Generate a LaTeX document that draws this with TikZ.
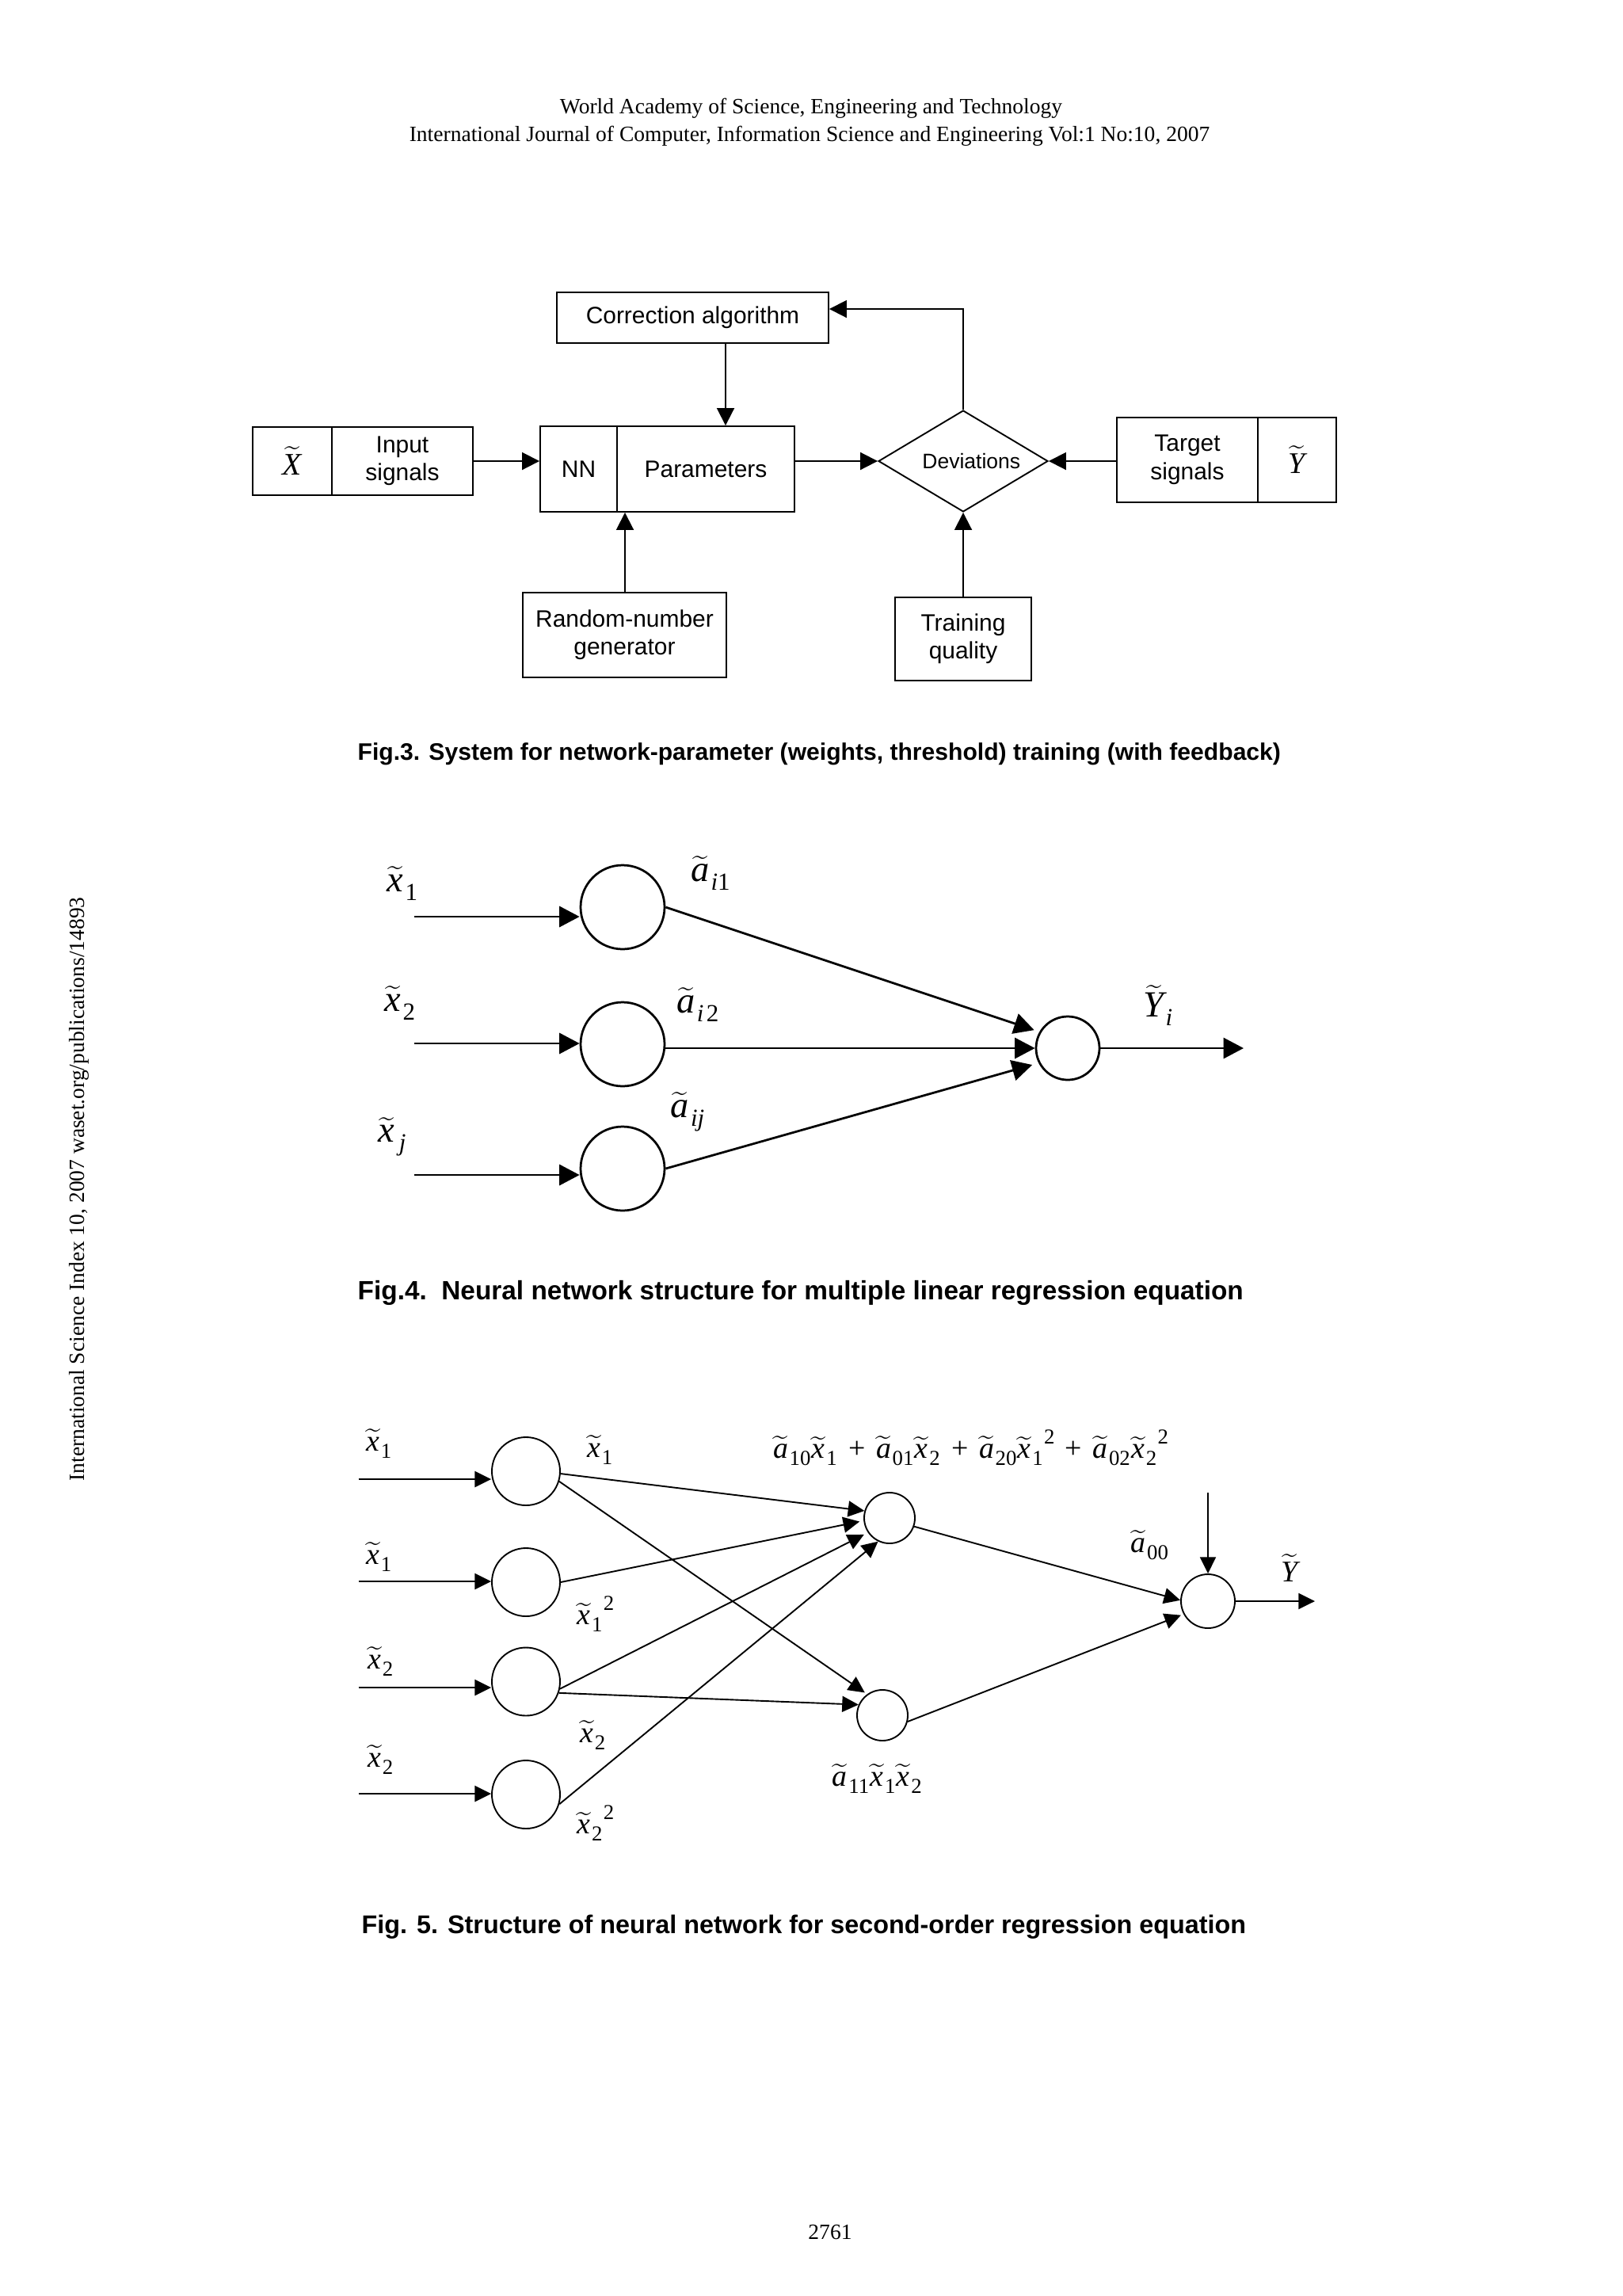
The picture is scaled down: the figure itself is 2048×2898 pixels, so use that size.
\documentclass[tikz,border=0pt]{standalone}
\usepackage[no-math]{fontspec}
\setmainfont{Liberation Serif}
\newfontfamily\arial{Liberation Sans}
\usetikzlibrary{arrows.meta,shapes.geometric,calc}
\newlength\pxu \setlength\pxu{0.29066pt}
\newcommand\tv[1]{$\widetilde{\mbox{\itshape #1}}$}
\newcommand\fa{\fontsize{13.5}{16}\selectfont}
\newcommand\loA[1]{\kern0.6pt\raisebox{-3.2pt}{\fontsize{9}{9}\selectfont #1}}
\newcommand\fb{\fontsize{11}{12}\selectfont}
\newcommand\loB[1]{\kern0.5pt\raisebox{-2.6pt}{\fontsize{7.8}{7.8}\selectfont #1}\kern0.4pt}
\newcommand\hiB[1]{\raisebox{5.4pt}{\fontsize{7.8}{7.8}\selectfont #1}}
\newcommand\pl{\hspace{0.35em}+\hspace{0.35em}}
\tikzset{
  b3/.style={draw, line width=0.55pt, inner sep=0pt, align=center, font=\arial\fontsize{8.7}{10.3}\selectfont},
  a3/.style={line width=0.55pt, -{Triangle[length=6.4pt,width=6.4pt]}},
  n4/.style={circle, draw, line width=0.8pt, inner sep=0pt},
  a4/.style={line width=0.8pt, -{Triangle[length=7.4pt,width=7.6pt]}},
  l4/.style={inner sep=0pt, font=\fa},
  n5/.style={circle, draw, line width=0.55pt, inner sep=0pt},
  a5/.style={line width=0.55pt, -{Triangle[length=6pt,width=5.8pt]}},
  i5/.style={line width=0.7pt, -{Triangle[length=6pt,width=5.8pt]}},
  l5/.style={inner sep=0pt, font=\fb},
  figcap/.style={inner sep=0pt, anchor=west, font=\arial\bfseries\fontsize{8.75}{10}\selectfont},
  txt/.style={inner sep=0pt, font=\fontsize{8}{9}\selectfont}
}
\begin{document}
\begin{tikzpicture}[x=0.29066pt, y=-0.29066pt]
\useasboundingbox (0,0) rectangle (2048,2898);
\fill[white] (0,0) rectangle (2048,2898);

% header, side text, page number
\node[txt] (hdr1) at (1024,137) {World Academy of Science, Engineering and Technology};
\node[txt] (hdr2) at (1022,172) {International Journal of Computer, Information Science and Engineering Vol:1 No:10, 2007};
\node[txt, rotate=90] (side) at (100,1501) {International Science Index 10, 2007 waset.org/publications/14893};
\node[txt] (pgno) at (1048,2817) {2761};

% ---------------- Fig. 3 ----------------
\node[b3, minimum width={343*\pxu}, minimum height={64*\pxu}] (corr) at (874.5,401) {Correction algorithm};
\node[b3, minimum width={100*\pxu}, minimum height={86*\pxu}, font=\fontsize{11.5}{12}\selectfont] (xs) at (369,582) {\tv{X}};
\node[b3, minimum width={178*\pxu}, minimum height={86*\pxu}] (inp) at (508,582) {Input\\signals};
\node[b3, minimum width={97*\pxu}, minimum height={108*\pxu}] (nn) at (730.5,592) {NN};
\node[b3, minimum width={224*\pxu}, minimum height={108*\pxu}] (par) at (891,592) {Parameters};
\node[diamond, draw, line width=0.55pt, inner sep=0pt, aspect=1.67,
      minimum width={214*\pxu}, minimum height={128*\pxu},
      font=\arial\fontsize{7.7}{9}\selectfont] (dev) at (1216,582) {\hspace*{6pt}Deviations};
\node[b3, minimum width={178*\pxu}, minimum height={107*\pxu}] (tgt) at (1499,580.5) {Target\\signals};
\node[b3, minimum width={99*\pxu}, minimum height={107*\pxu}, font=\fontsize{11}{12}\selectfont] (ys) at (1637.5,580.5) {\tv{Y}};
\node[b3, minimum width={257*\pxu}, minimum height={107*\pxu}] (rng) at (788.5,801.5) {Random-number\\generator};
\node[b3, minimum width={172*\pxu}, minimum height={105*\pxu}] (tq) at (1216,806.5) {Training\\quality};

\draw[a3] (inp.east) -- (inp.east -| nn.west);
\draw[a3] (dev.west -| par.east) -- (dev.west);
\draw[a3] (tgt.west |- dev.east) -- (dev.east);
\coordinate (cp) at ($(par.north)+(25,0)$);
\draw[a3] (corr.south -| cp) -- (cp);
\coordinate (rp) at ($(par.south)+(-102,0)$);
\draw[a3] (rng.north -| rp) -- (rp);
\draw[a3] (tq.north) -- (dev.south);
\draw[a3] (dev.north) |- ($(corr.east)+(0,-11)$);

\node[figcap] (cap3) at (451,952) {Fig.3. System for network-parameter (weights, threshold) training (with feedback)};

% ---------------- Fig. 4 ----------------
\node[n4, minimum size={106*\pxu}] (c1) at (786,1145) {};
\node[n4, minimum size={106*\pxu}] (c2) at (786,1318) {};
\node[n4, minimum size={106*\pxu}] (c3) at (786,1475) {};
\node[n4, minimum size={80*\pxu}] (o4) at (1348,1323) {};
\coordinate (i1) at (523,1157);
\coordinate (i2) at (523,1317);
\coordinate (i3) at (523,1483);
\draw[a4] (i1) -- (i1 -| c1.west);
\draw[a4] (i2) -- (i2 -| c2.west);
\draw[a4] (i3) -- (i3 -| c3.west);
\draw[a4, shorten >=2pt] (c1.east) -- (o4.150);
\draw[a4] (c2.east |- o4.west) -- (o4.west);
\draw[a4, shorten >=2.4pt] (c3.east) -- (o4.207);
\coordinate (y4) at (1570,1323);
\draw[a4] (o4.east) -- (y4);

\node[l4] (lx1) at (508,1115) {\tv{x}\loA{1}};
\node[l4] (lx2) at (505,1266) {\tv{x}\loA{2}};
\node[l4] (lxj) at (495,1435) {\tv{x}\loA{\kern1pt\itshape j}};
\node[l4] (la1) at (897,1102) {\tv{a}\loA{\textit{i}1}};
\node[l4] (la2) at (881,1268) {\tv{a}\loA{\textit{i}\kern1pt2}};
\node[l4] (laj) at (868,1403) {\tv{a}\loA{\textit{ij}}};
\node[l4] (lyi) at (1462,1269) {\tv{Y}\loA{\textit{i}}};

\node[figcap, font=\arial\bfseries\fontsize{9.7}{11}\selectfont] (cap4) at (451,1632) {Fig.4.\ \ Neural network structure for multiple linear regression equation};

% ---------------- Fig. 5 ----------------
\node[n5, minimum size={86*\pxu}] (d1) at (664,1857) {};
\node[n5, minimum size={86*\pxu}] (d2) at (664,1997) {};
\node[n5, minimum size={86*\pxu}] (d3) at (664,2122.5) {};
\node[n5, minimum size={86*\pxu}] (d4) at (664,2265) {};
\node[n5, minimum size={64*\pxu}] (h1) at (1123,1916) {};
\node[n5, minimum size={64*\pxu}] (h2) at (1114,2165) {};
\node[n5, minimum size={68*\pxu}] (o5) at (1525,2021) {};
\coordinate (j1) at (452.5,1867);
\coordinate (j2) at (452.5,1996);
\coordinate (j3) at (452.5,2130);
\coordinate (j4) at (452.5,2264);
\draw[i5] (j1) -- (j1 -| d1.west);
\draw[i5] (j2) -- (j2 -| d2.west);
\draw[i5] (j3) -- (j3 -| d3.west);
\draw[i5] (j4) -- (j4 -| d4.west);
\draw[a5] (d1.-4) -- (h1.164);
\draw[a5, shorten >=1pt] (d1.-17) -- (h2.126);
\draw[a5, shorten >=1.5pt] (d2.east) -- (h1.186);
\draw[a5, shorten >=1.6pt] (d3.-12) -- (h1.214);
\draw[a5] (d3.-19) -- (h2.156);
\draw[a5] (d4.-16) -- (h1.244);
\draw[a5] (h1.-19) -- (o5.178);
\draw[a5, shorten >=1pt] (h2.-14) -- (o5.208);
\coordinate (t5) at (1525,1884);
\draw[a5] (t5) -- (o5.north);
\coordinate (y5) at (1660,2021);
\draw[a5] (o5.east) -- (y5);

\node[l5] (m1) at (479,1822) {\tv{x}\loB{1}};
\node[l5] (m2) at (479,1965) {\tv{x}\loB{1}};
\node[l5] (m3) at (481,2097) {\tv{x}\loB{2}};
\node[l5] (m4) at (481,2221) {\tv{x}\loB{2}};
\node[l5] (q1) at (758,1830) {\tv{x}\loB{1}};
\node[l5] (q2) at (752,2037) {\tv{x}\loB{1}\hiB{2}};
\node[l5] (q3) at (749,2190) {\tv{x}\loB{2}};
\node[l5] (q4) at (752,2301) {\tv{x}\loB{2}\hiB{2}};
\node[l5] (form) at (1225.5,1827) {\tv{a}\loB{10}\tv{x}\loB{1}\pl\tv{a}\loB{01}\tv{x}\loB{2}\pl\tv{a}\loB{20}\tv{x}\loB{1}\hiB{2}\pl\tv{a}\loB{02}\tv{x}\loB{2}\hiB{2}};
\node[l5] (f11) at (1108,2245) {\tv{a}\loB{11}\tv{x}\loB{1}\tv{x}\loB{2}};
\node[l5] (f00) at (1452,1950) {\tv{a}\loB{00}};
\node[l5] (fy) at (1628,1979) {\tv{Y}};

\node[figcap, font=\arial\bfseries\fontsize{9.4}{11}\selectfont] (cap5) at (456,2432) {Fig. 5. Structure of neural network for second-order regression equation};
\end{tikzpicture}
\end{document}
